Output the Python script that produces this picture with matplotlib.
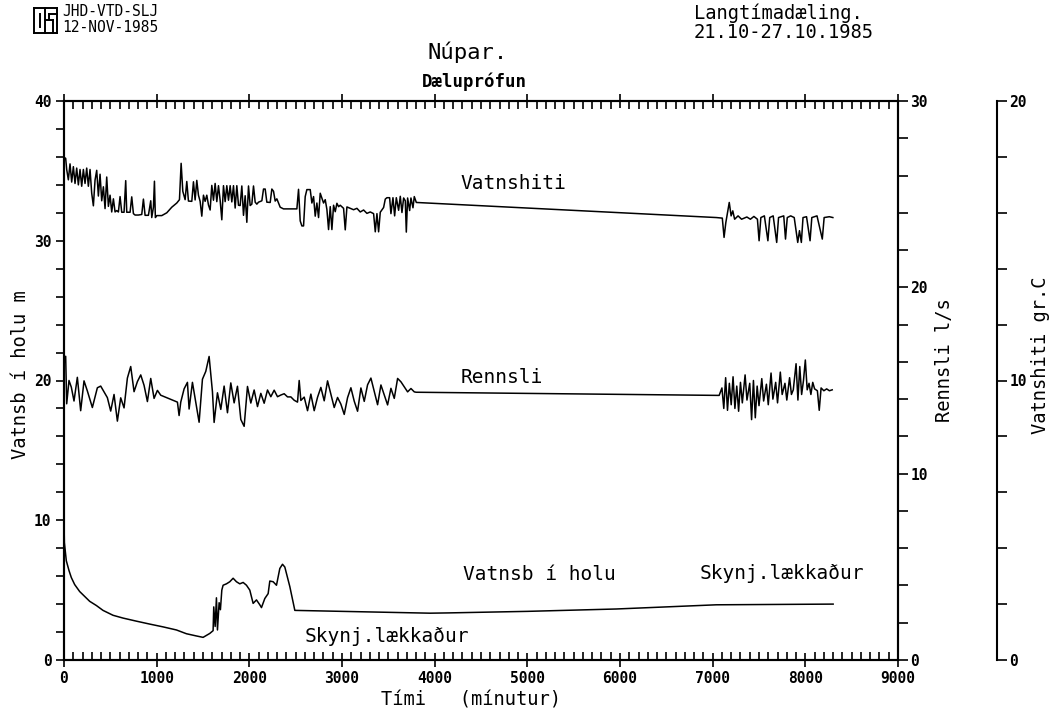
import matplotlib
matplotlib.use("Agg")
import matplotlib.pyplot as plt
from matplotlib.ticker import MultipleLocator
from matplotlib.lines import Line2D

MONO = "DejaVu Sans Mono"

# Vatnshiti, water temperature (gr.C) against time (minutes)
hiti_t = [0, 18, 29, 47, 65, 83, 101, 119, 137, 155, 173, 191, 209, 227, 245, 263, 281, 299,
          317, 335, 353, 371, 389, 407, 425, 443, 461, 479, 497, 515, 533, 551, 569, 587, 605,
          623, 648, 666, 677, 713, 731, 749, 767, 803, 839, 857, 875, 911, 936, 947, 965, 976,
          986, 1001, 1055, 1109, 1163, 1217, 1246, 1264, 1282, 1307, 1325, 1343, 1379, 1397,
          1415, 1433, 1451, 1469, 1487, 1505, 1523, 1541, 1559, 1577, 1595, 1613, 1631, 1649,
          1667, 1685, 1703, 1721, 1739, 1757, 1775, 1793, 1811, 1829, 1847, 1865, 1883, 1901,
          1919, 1937, 1955, 1973, 1991, 2009, 2027, 2045, 2063, 2081, 2099, 2135, 2153, 2171,
          2189, 2225, 2243, 2261, 2279, 2297, 2333, 2369, 2477, 2513, 2531, 2549, 2567, 2585,
          2603, 2621, 2657, 2675, 2693, 2711, 2729, 2747, 2765, 2783, 2801, 2819, 2837, 2855,
          2873, 2891, 2909, 2927, 2945, 2963, 2981, 3017, 3035, 3053, 3089, 3125, 3161, 3197,
          3233, 3269, 3305, 3341, 3359, 3377, 3395, 3413, 3449, 3467, 3485, 3514, 3528, 3550,
          3568, 3586, 3611, 3629, 3647, 3665, 3683, 3694, 3708, 3730, 3744, 3766, 3780, 3802,
          7040, 7104, 7123, 7142, 7179, 7199, 7217, 7237, 7274, 7312, 7369, 7407, 7445, 7483,
          7501, 7520, 7558, 7596, 7616, 7653, 7691, 7711, 7767, 7786, 7805, 7842, 7880, 7918,
          7937, 7957, 7975, 8013, 8051, 8070, 8126, 8183, 8203, 8259, 8297]
hiti_v = [17.98, 17.95, 17.55, 17.18, 17.75, 17.10, 17.65, 17.05, 17.60, 17.00, 17.55, 16.95,
          17.55, 17.05, 17.60, 16.95, 17.55, 16.70, 16.25, 17.17, 17.52, 16.60, 17.38, 16.43,
          16.93, 16.15, 17.28, 16.23, 16.63, 16.03, 16.50, 16.03, 16.08, 16.03, 16.58, 16.02,
          16.02, 17.15, 16.02, 16.02, 16.57, 15.97, 15.92, 15.92, 15.94, 16.49, 15.91, 15.91,
          16.43, 15.83, 16.20, 17.13, 15.83, 15.90, 15.90, 16.00, 16.20, 16.35, 16.47, 17.77,
          16.77, 16.47, 17.12, 16.42, 16.41, 17.11, 16.46, 17.16, 16.63, 16.41, 15.88, 16.63,
          16.41, 16.63, 16.28, 16.10, 16.98, 16.45, 17.05, 16.40, 16.97, 16.45, 15.75, 16.97,
          16.40, 16.97, 16.45, 16.97, 16.39, 16.97, 16.17, 16.97, 16.27, 16.26, 16.96, 15.91,
          16.61, 15.66, 16.96, 16.26, 16.31, 16.96, 16.38, 16.31, 16.38, 16.43, 16.85, 16.85,
          16.38, 16.37, 16.85, 16.77, 16.42, 16.50, 16.20, 16.14, 16.14, 16.14, 16.84, 15.71,
          15.53, 15.53, 16.58, 16.83, 16.83, 16.35, 16.58, 15.88, 16.35, 15.83, 16.70, 16.52,
          16.35, 16.47, 16.12, 15.40, 16.22, 15.40, 16.27, 16.04, 16.34, 16.22, 16.27, 16.16,
          15.39, 16.21, 16.16, 16.11, 16.16, 16.03, 16.10, 15.98, 16.03, 15.97, 15.32, 15.97,
          15.32, 16.02, 16.19, 16.49, 16.54, 16.54, 15.97, 16.54, 15.89, 16.54, 16.09, 16.59,
          16.01, 16.53, 16.43, 15.31, 16.53, 16.08, 16.53, 16.18, 16.58, 16.37,
          15.83, 15.81, 15.12, 15.65, 16.37, 15.89, 16.07, 15.77, 15.89, 15.77, 15.85, 15.77,
          15.87, 15.77, 15.00, 15.83, 15.89, 15.00, 15.83, 15.89, 14.94, 15.83, 15.89, 15.06,
          15.83, 15.89, 15.83, 14.94, 15.36, 14.94, 15.83, 15.86, 15.00, 15.83, 15.89, 15.06,
          15.83, 15.86, 15.83]

# Rennsli, flow (l/s)
rennsli_t = [0, 18, 29, 54, 79, 108, 144, 180, 216, 252, 306, 360, 396, 468, 504, 540, 576,
             612, 648, 684, 720, 756, 792, 828, 864, 900, 936, 972, 1008, 1044, 1224, 1242,
             1260, 1296, 1332, 1350, 1386, 1422, 1458, 1494, 1530, 1566, 1602, 1620, 1656,
             1692, 1728, 1764, 1800, 1836, 1872, 1908, 1944, 1980, 2016, 2052, 2088, 2124,
             2160, 2196, 2232, 2268, 2304, 2340, 2376, 2412, 2448, 2484, 2520, 2538, 2556,
             2592, 2628, 2664, 2700, 2736, 2772, 2808, 2844, 2880, 2916, 2952, 2988, 3024,
             3060, 3096, 3132, 3168, 3204, 3240, 3276, 3312, 3348, 3384, 3420, 3456, 3492,
             3528, 3564, 3600, 3636, 3672, 3708, 3744, 3780, 3800,
             7040, 7070, 7100, 7120, 7140, 7160, 7180, 7200, 7220, 7240, 7260, 7280, 7300,
             7320, 7350, 7370, 7400, 7420, 7440, 7460, 7480, 7500, 7530, 7550, 7580, 7600,
             7630, 7650, 7680, 7700, 7730, 7750, 7780, 7800, 7830, 7850, 7870, 7900, 7920,
             7940, 7960, 7980, 8000, 8020, 8040, 8060, 8080, 8100, 8130, 8150, 8170, 8200,
             8230, 8260, 8290]
rennsli_v = [15.90, 16.30, 13.75, 15.00, 14.64, 13.90, 15.17, 13.38, 14.98, 14.44, 13.55,
             14.61, 14.70, 14.08, 13.36, 14.25, 12.82, 14.07, 13.53, 15.13, 15.75, 14.40,
             14.94, 15.30, 14.74, 13.87, 15.11, 14.04, 14.47, 14.21, 13.84, 13.12, 13.84,
             14.55, 14.90, 13.47, 14.90, 13.83, 12.76, 15.07, 15.49, 16.29, 14.39, 12.75,
             14.34, 13.45, 14.70, 13.27, 14.87, 13.80, 14.69, 12.91, 12.54, 14.68, 13.79,
             14.49, 13.60, 14.31, 13.78, 14.49, 14.13, 14.48, 14.13, 14.22, 14.29, 14.12,
             14.12, 13.94, 13.84, 15.00, 13.93, 14.11, 13.38, 14.27, 13.38, 14.10, 14.63,
             13.91, 14.98, 14.26, 13.55, 14.09, 13.73, 13.18, 14.08, 14.61, 13.89, 13.35,
             14.60, 13.88, 14.77, 15.13, 14.41, 13.70, 14.76, 14.22, 13.69, 14.58, 14.04,
             15.11, 14.93, 14.66, 14.39, 14.57, 14.39, 14.37,
             14.20, 14.20, 14.60, 13.50, 15.15, 13.40, 14.85, 13.70, 15.20, 13.50, 14.70,
             13.35, 14.90, 13.80, 15.30, 13.95, 14.85, 12.90, 15.00, 13.00, 14.70, 13.65,
             15.10, 13.90, 14.80, 13.70, 15.40, 14.00, 14.90, 13.80, 15.45, 14.25, 14.85,
             13.95, 15.15, 14.25, 14.50, 15.90, 13.95, 15.75, 14.25, 15.00, 16.10, 14.50,
             14.85, 14.25, 14.90, 14.55, 14.45, 13.40, 14.60, 14.45, 14.55, 14.45, 14.50]

# Vatnsb i holu, water level in the well (m)
vatnsb_t = [0, 4, 25, 54, 79, 115, 169, 223, 277, 349, 421, 529, 637, 781, 925, 1069, 1213,
            1321, 1429, 1501, 1573, 1609, 1616, 1631, 1645, 1656, 1674, 1688, 1703, 1717, 1753,
            1789, 1825, 1861, 1897, 1933, 1969, 2005, 2041, 2077, 2113, 2131, 2167, 2203, 2221,
            2257, 2293, 2329, 2358, 2383, 2437, 2491, 3000, 3950, 4150, 5000, 5960, 7040, 8300]
vatnsb_v = [10.0, 8.4, 7.1, 6.4, 5.9, 5.4, 4.9, 4.55, 4.2, 3.9, 3.55, 3.2, 3.0, 2.78, 2.57,
            2.37, 2.15, 1.88, 1.72, 1.62, 1.9, 2.1, 3.8, 2.4, 4.45, 2.15, 4.1, 3.6, 5.0, 5.35,
            5.45, 5.6, 5.85, 5.6, 5.45, 5.55, 5.35, 5.0, 4.05, 4.3, 3.95, 3.75, 4.4, 4.75, 5.65,
            5.6, 5.35, 6.55, 6.85, 6.65, 5.25, 3.55, 3.48, 3.35, 3.37, 3.48, 3.65, 3.95, 4.0]

W, H = 1052, 711


def fx(x):
    return x / W


def fy(y):
    return 1 - y / H


fig = plt.figure(figsize=(W / 100, H / 100), dpi=100)
ax = fig.add_axes([fx(64), fy(660), (898 - 64) / W, (660 - 101) / H])
ax2 = ax.twinx()
ax3 = ax.twinx()

LW = 1.1
ax.plot(vatnsb_t, vatnsb_v, color="black", lw=LW)
ax2.plot(rennsli_t, rennsli_v, color="black", lw=LW)
ax3.plot(hiti_t, hiti_v, color="black", lw=LW)

ax.set_xlim(0, 9000)
ax.set_ylim(0, 40)
ax2.set_ylim(0, 30)
ax3.set_ylim(0, 20)

for a in (ax, ax2, ax3):
    for s in a.spines.values():
        s.set_linewidth(1.5)
        s.set_color("black")

ax3.spines["right"].set_position(("axes", (997 - 64) / 834))
for side in ("left", "top", "bottom"):
    ax3.spines[side].set_visible(False)

ax.xaxis.set_major_locator(MultipleLocator(1000))
ax.xaxis.set_minor_locator(MultipleLocator(100))
ax.tick_params(axis="x", which="major", top=True, bottom=True, direction="inout",
               length=10, width=1.2, pad=3)
ax.tick_params(axis="x", which="minor", top=True, bottom=True, direction="in",
               length=6, width=1.2)

ax.yaxis.set_major_locator(MultipleLocator(10))
ax.yaxis.set_minor_locator(MultipleLocator(2))
ax.tick_params(axis="y", which="both", direction="out", length=6, width=1.2, pad=3)

for a in (ax2, ax3):
    a.yaxis.set_major_locator(MultipleLocator(10))
    a.yaxis.set_minor_locator(MultipleLocator(2))
    a.tick_params(axis="y", which="both", direction="out", length=7, width=1.2, pad=2)

for a in (ax, ax2, ax3):
    for lab in a.get_xticklabels() + a.get_yticklabels():
        lab.set_fontfamily(MONO)
        lab.set_fontweight("bold")
        lab.set_fontsize(10.5)

# Series names inside the plot
txt = {"family": MONO, "size": 14}
ax.text(4273, 34.1, "Vatnshiti", ha="left", va="center", **txt)
ax.text(4284, 20.2, "Rennsli", ha="left", va="center", **txt)
ax.text(4306, 6.1, "Vatnsb í holu", ha="left", va="center", **txt)
ax.text(6863, 6.2, "Skynj.lækkaður", ha="left", va="center", **txt)
ax.text(2600, 1.7, "Skynj.lækkaður", ha="left", va="center", **txt)

# Axis titles
lab = {"family": MONO, "size": 13.5}
fig.text(fx(471), fy(700), "Tími   (mínutur)", ha="center", va="center", **lab)
fig.text(fx(21), fy(375), "Vatnsb í holu m", rotation=90, ha="center", va="center", **lab)
fig.text(fx(945), fy(360), "Rennsli l/s", rotation=90, ha="center", va="center", **lab)
fig.text(fx(1041), fy(355), "Vatnshiti gr.C", rotation=90, ha="center", va="center", **lab)

# Header
fig.text(fx(468), fy(52), "Núpar.", ha="center", va="center", family=MONO, size=16)
fig.text(fx(474), fy(82), "Dæluprófun", ha="center", va="center", family=MONO,
         size=12.5, weight="bold")
fig.text(fx(694), fy(13), "Langtímadæling.", ha="left", va="center", family=MONO, size=13.5)
fig.text(fx(694), fy(33), "21.10-27.10.1985", ha="left", va="center", family=MONO, size=13.5)
fig.text(fx(62), fy(12), "JHD-VTD-SLJ", ha="left", va="center", family=MONO, size=10.5)
fig.text(fx(62), fy(28), "12-NOV-1985", ha="left", va="center", family=MONO, size=10.5)

# Institute logo: boxed monogram
def seg(x0, y0, x1, y1, lw=1.4):
    fig.add_artist(Line2D([fx(x0), fx(x1)], [fy(y0), fy(y1)], color="black", lw=lw,
                          transform=fig.transFigure))

lx0, lx1, ly0, ly1 = 34, 57, 8, 33
seg(lx0, ly0, lx1, ly0)
seg(lx1, ly0, lx1, ly1)
seg(lx1, ly1, lx0, ly1)
seg(lx0, ly1, lx0, ly0)
seg(45, ly0, 45, ly1)
seg(39.5, 14, 39.5, 27)
seg(45, 20, 53, 20)
seg(53, 20, 53, 33)
seg(49, 14, 57, 14)
seg(49, 14, 49, 20)

fig.savefig("out.png", dpi=100)
